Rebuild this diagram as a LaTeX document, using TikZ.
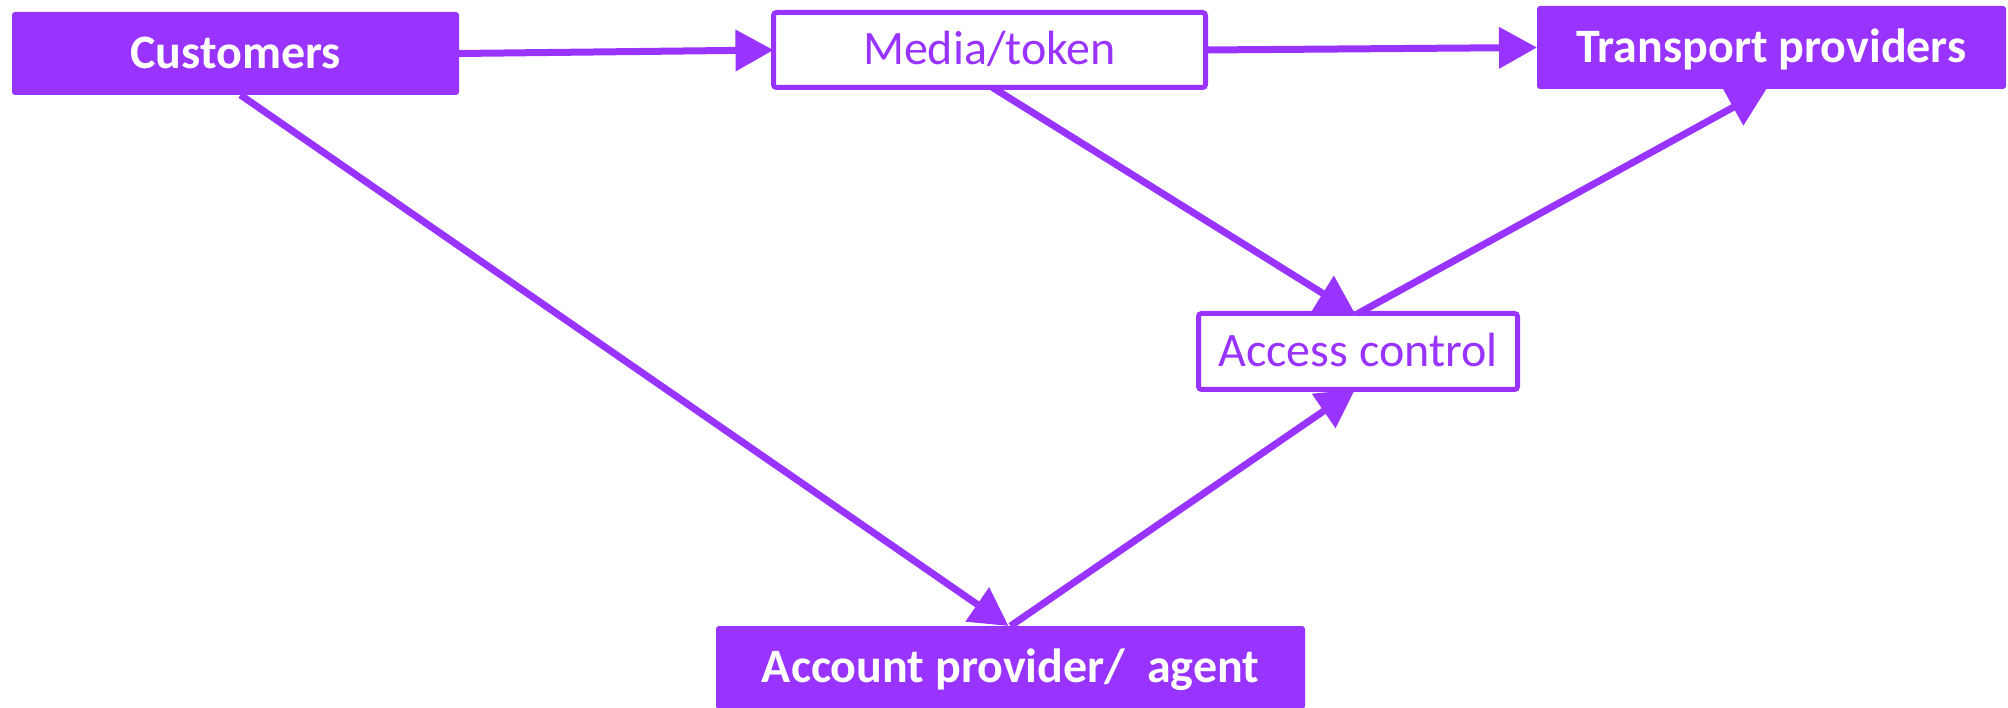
\documentclass[tikz,border=0pt]{standalone}
\usepackage{fontspec}
\setmainfont{Carlito}
\usetikzlibrary{arrows.meta}
\definecolor{purp}{RGB}{153,51,255}
\begin{document}
\begin{tikzpicture}[x=1pt,y=-1pt,
  base/.style={rectangle, rounded corners=3pt, outer sep=0pt, inner sep=0pt,
    font=\fontsize{48}{52}\selectfont, text height=30pt, text depth=0pt},
  filled/.style={base, fill=purp, draw=none, text=white, font=\fontsize{48}{52}\selectfont\bfseries},
  outlined/.style={base, draw=purp, line width=5pt, fill=white, text=purp},
  conn/.style={draw=purp, line width=7pt, -{Triangle[length=38pt,width=40pt]}}]
\useasboundingbox (0,0) rectangle (2008,708);
\node[filled, minimum width=447pt, minimum height=83pt] (cust) at (235.5,53.5) {Customers};
\node[outlined, minimum width=432pt, minimum height=75pt] (media) at (989.5,50) {Media/token};
\node[filled, minimum width=469pt, minimum height=83pt] (trans) at (1771.5,47.5) {Transport providers};
\node[outlined, minimum width=319pt, minimum height=76pt] (access) at (1358,351.5) {Access control};
\node[filled, minimum width=589pt, minimum height=83pt] (acct) at (1010.5,667.5) {Account provider/\ \ agent};
\draw[conn] (cust.east) -- (media.west);
\draw[conn] (media.east) -- (trans.west);
\draw[conn] ([xshift=3pt]media.south) -- ([xshift=-3pt]access.north);
\draw[conn] (access.north) -- ([xshift=-5pt]trans.south);
\draw[conn] ([xshift=5pt]cust.south) -- ([xshift=-2pt]acct.north);
\draw[conn] (acct.north) -- ([xshift=-3pt]access.south);
\end{tikzpicture}
\end{document}
